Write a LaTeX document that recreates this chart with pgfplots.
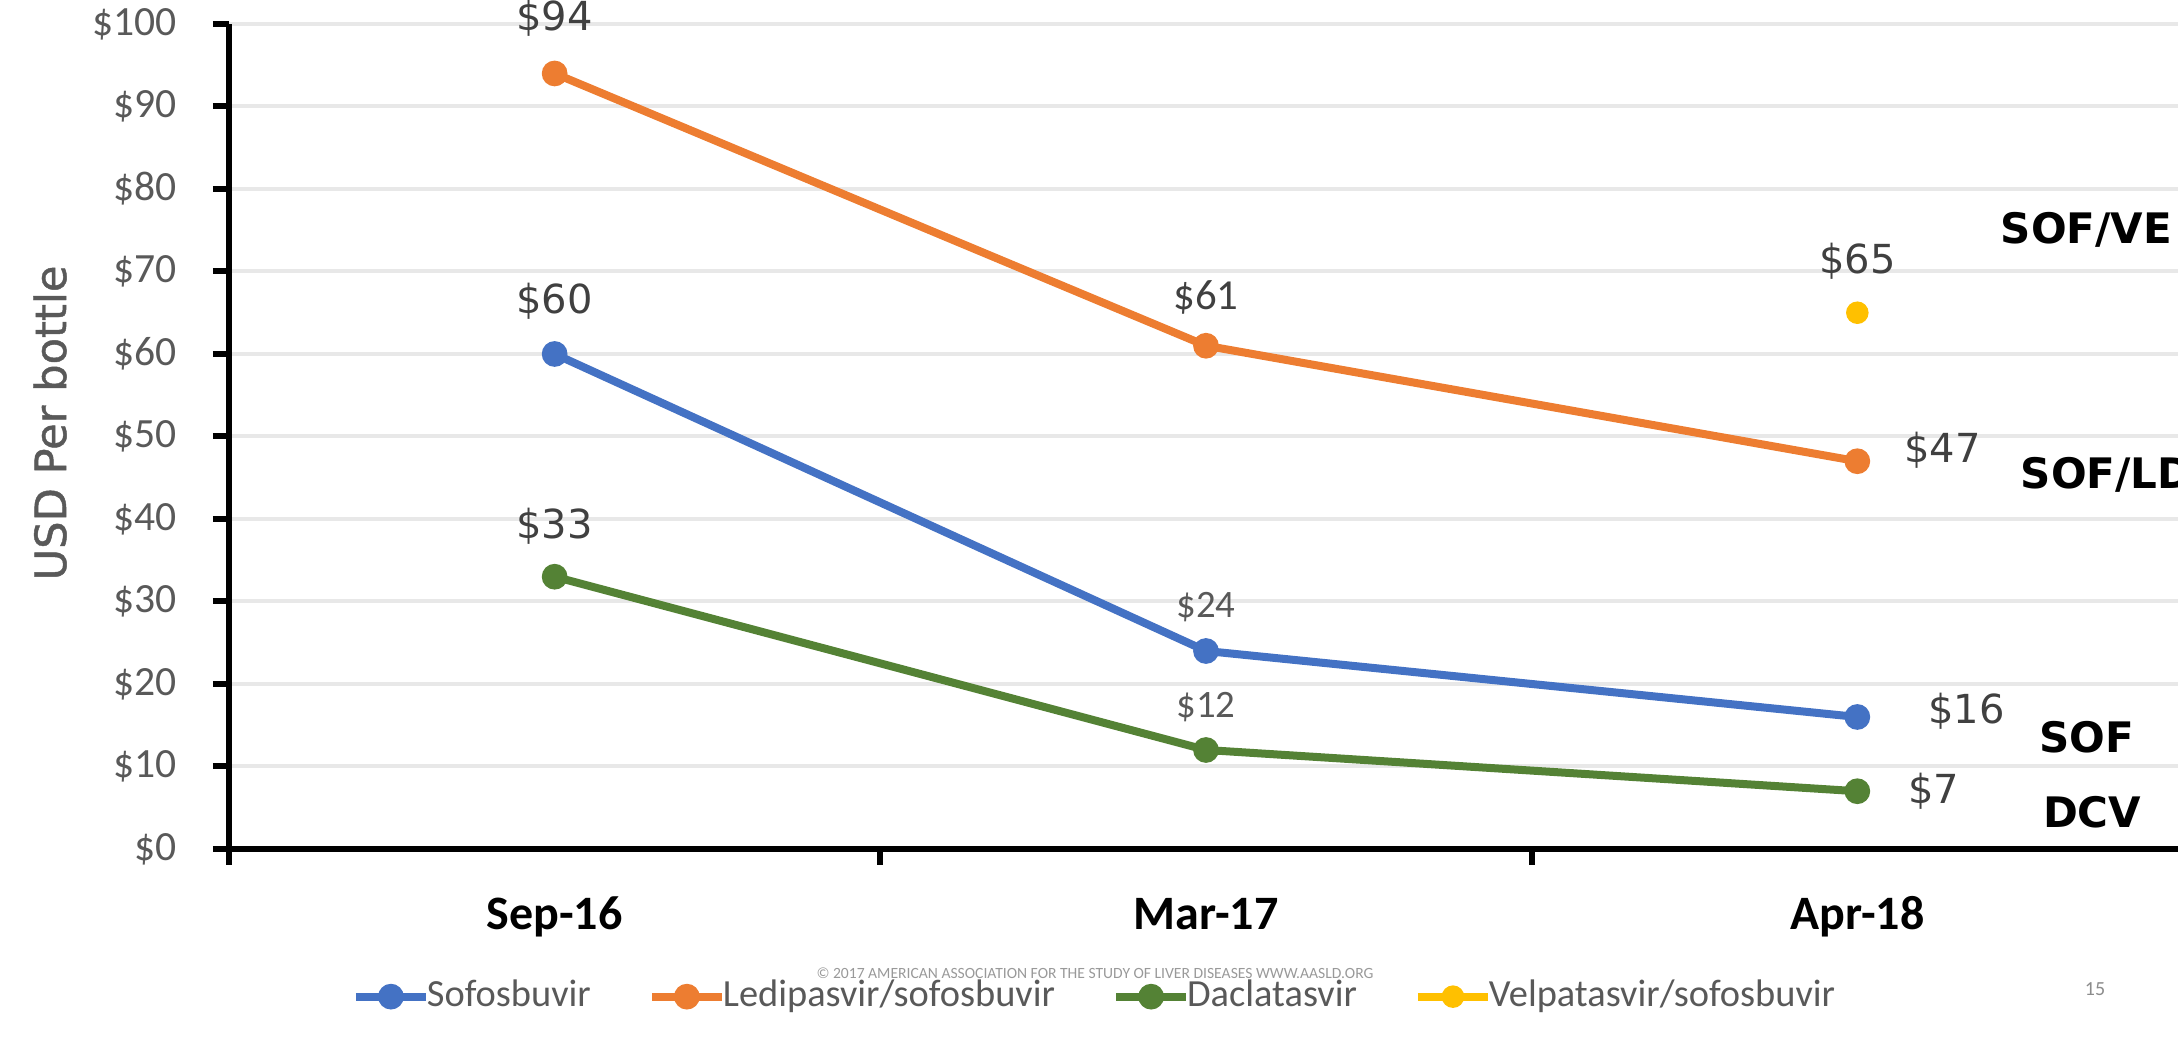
\documentclass[border=0pt]{standalone}
\usepackage{pgfplots}
\pgfplotsset{compat=1.18}
\usepackage{fontspec}
\setmainfont{Carlito}
\newfontfamily\dejavu{DejaVu Sans}
\newfontfamily\dejavusemi[FakeBold=1]{DejaVu Sans}
\definecolor{cblue}{HTML}{4472C4}
\definecolor{corange}{HTML}{ED7D31}
\definecolor{cgreen}{HTML}{548235}
\definecolor{cyellow}{HTML}{FFC000}
\definecolor{tickgray}{HTML}{595959}
\definecolor{lblgray}{HTML}{404040}
\definecolor{gridgray}{HTML}{E8E8E8}
\begin{document}
\begin{tikzpicture}
\begin{axis}[
  name=ax, at={(0,0)}, anchor=south west,
  scale only axis, width=488.5pt, height=206.25pt,
  xmin=-0.5, xmax=2.5, ymin=0, ymax=100,
  axis x line*=bottom, axis y line*=left,
  axis line style={black, line width=1.5pt},
  xtick={-0.5,0.5,1.5,2.5}, xticklabels={},
  ytick={0,10,...,100},
  /pgf/number format/assume math mode=true,
  yticklabel={\$\pgfmathprintnumber{\tick}},
  yticklabel style={font=\fontsize{10.4}{12}\selectfont, text=tickgray, anchor=east, xshift=-5.5pt},
  tick align=outside, major tick length=4pt,
  tick style={black, line width=1.5pt},
  ymajorgrids, grid style={draw=gridgray, line width=1pt},
  clip=false,
  legend columns=4,
  legend image code/.code={\draw[mark repeat=2,mark phase=2,#1] plot coordinates {(0pt,0pt) (8.75pt,0pt) (17.5pt,0pt)};},
  legend style={at={(axis description cs:0.0625,-0.179)}, anchor=west, draw=none, fill=none, inner sep=0pt,
    font=\fontsize{9.6}{11}\selectfont, text=tickgray,
    nodes={inner sep=0pt},
    /tikz/every odd column/.append style={column sep=-0.75pt},
    /tikz/every even column/.append style={column sep=14.25pt}},
]
\addplot[cblue, line width=2pt, mark=*, mark size=2.2pt] coordinates {(0,60) (1,24) (2,16)};
\addlegendentry{Sofosbuvir}
\addplot[corange, line width=2pt, mark=*, mark size=2.2pt] coordinates {(0,94) (1,61) (2,47)};
\addlegendentry{Ledipasvir/sofosbuvir}
\addplot[cgreen, line width=2pt, mark=*, mark size=2.2pt] coordinates {(0,33) (1,12) (2,7)};
\addlegendentry{Daclatasvir}
\addplot[cyellow, line width=2pt, mark=*, mark size=1.8pt] coordinates {(2,65)};
\addlegendentry{Velpatasvir/sofosbuvir}

% data labels
\node[font=\dejavu\fontsize{10}{12}\selectfont, text=lblgray, inner sep=0pt, yshift=13.75pt] at (axis cs:0,94) {\$94};
\node[font=\dejavu\fontsize{10}{12}\selectfont, text=lblgray, inner sep=0pt, yshift=13.25pt] at (axis cs:0,60) {\$60};
\node[font=\dejavu\fontsize{10}{12}\selectfont, text=lblgray, inner sep=0pt, yshift=12.5pt] at (axis cs:0,33) {\$33};
\node[font=\fontsize{10.7}{12}\selectfont, text=lblgray, inner sep=0pt, yshift=12pt] at (axis cs:1,61) {\$61};
\node[font=\fontsize{9.7}{12}\selectfont, text=tickgray, inner sep=0pt, yshift=11pt] at (axis cs:1,24) {\$24};
\node[font=\fontsize{9.7}{12}\selectfont, text=tickgray, inner sep=0pt, yshift=10.75pt] at (axis cs:1,12) {\$12};
\node[font=\dejavu\fontsize{10}{12}\selectfont, text=lblgray, inner sep=0pt, yshift=12.75pt] at (axis cs:2,65) {\$65};
\node[font=\dejavu\fontsize{10}{12}\selectfont, text=lblgray, inner sep=0pt, anchor=west, xshift=11.5pt, yshift=2.75pt] at (axis cs:2,47) {\$47};
\node[font=\dejavu\fontsize{10}{12}\selectfont, text=lblgray, inner sep=0pt, anchor=west, xshift=17.5pt, yshift=1.5pt] at (axis cs:2,16) {\$16};
\node[font=\dejavu\fontsize{10}{12}\selectfont, text=lblgray, inner sep=0pt, anchor=west, xshift=12.5pt] at (axis cs:2,7) {\$7};

% series names at right
\node[font=\dejavu\bfseries\fontsize{10.5}{12}\selectfont, anchor=west, inner sep=0pt] at (axis cs:2.219,75) {SOF/VE};
\node[font=\dejavu\bfseries\fontsize{10.5}{12}\selectfont, anchor=west, inner sep=0pt] at (axis cs:2.25,45.3) {SOF/LD};
\node[font=\dejavu\bfseries\fontsize{10.5}{12}\selectfont, anchor=west, inner sep=0pt] at (axis cs:2.278,13.6) {SOF};
\node[font=\dejavu\bfseries\fontsize{10.5}{12}\selectfont, anchor=west, inner sep=0pt] at (axis cs:2.284,4.4) {DCV};

% category labels
\node[font=\bfseries\fontsize{12}{14}\selectfont, anchor=base, yshift=-20.25pt] at (axis cs:0,0) {Sep-16};
\node[font=\bfseries\fontsize{12}{14}\selectfont, anchor=base, yshift=-20.25pt] at (axis cs:1,0) {Mar-17};
\node[font=\bfseries\fontsize{12}{14}\selectfont, anchor=base, yshift=-20.25pt] at (axis cs:2,0) {Apr-18};
\end{axis}
\node[rotate=90, font=\dejavusemi\fontsize{10.8}{13}\selectfont, text=tickgray] at (-44.75pt,106.5pt) {USD Per bottle};
\node[font=\fontsize{3.9}{5}\selectfont, text=black!40] at (216.5pt,-31pt) {© 2017 AMERICAN ASSOCIATION FOR THE STUDY OF LIVER DISEASES WWW.AASLD.ORG};
\node[font=\fontsize{5}{6}\selectfont, text=black!45] at (466.5pt,-35pt) {15};
\pgfresetboundingbox
\useasboundingbox (-57.25pt,-49pt) rectangle (487.25pt,212.25pt);
\end{tikzpicture}
\end{document}
